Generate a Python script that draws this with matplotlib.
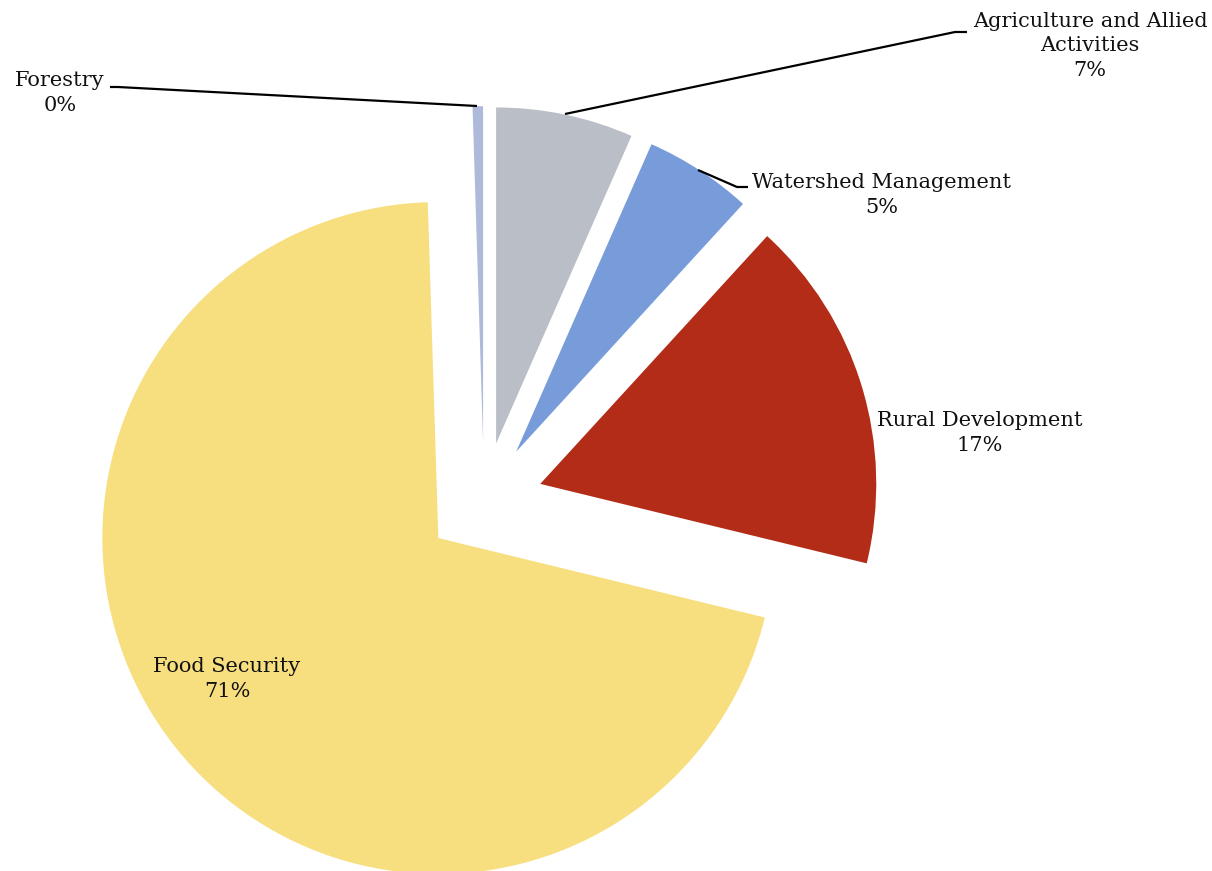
import matplotlib
matplotlib.use('Agg')
import matplotlib.pyplot as plt

# shares of the programme (percent), clockwise from 12 o'clock
labels = ['Agriculture and Allied\nActivities', 'Watershed Management',
          'Rural Development', 'Food Security', 'Forestry']
values = [6.6, 5.2, 17.0, 70.7, 0.5]
colors = ['#BABEC6', '#789CD9', '#B22C18', '#F7DF80', '#ADBAD9']

plt.rcParams['font.family'] = ['DejaVu Serif']

W, H = 1212, 871
fig = plt.figure(figsize=(W / 100, H / 100), dpi=100)
ax = fig.add_axes([0, 0, 1, 1])

# pixel based axes, y up
cx, cy, R = 484, H - 501, 336
ax.pie(values, explode=[0.175 * R] * len(values), radius=R, center=(cx, cy),
       startangle=90, counterclock=False, colors=colors,
       wedgeprops=dict(linewidth=0))
ax.set_xlim(0, W)
ax.set_ylim(0, H)
ax.set_aspect('equal')
ax.axis('off')

def P(x, y):
    return x, H - y

# label text: position given in image pixels (top-left origin)
label_pos = [(1090, 46), (882, 195), (980, 433), (227, 679), (60, 93)]
for lab, v, (x, y) in zip(labels, values, label_pos):
    ax.text(*P(x, y), '%s\n%d%%' % (lab, round(v)), ha='center', va='center',
            multialignment='center', fontsize=15, linespacing=1.35,
            color='#111111')

# leader lines
leaders = [
    [(565, 114), (955, 32), (967, 32)],
    [(698, 170), (737, 187), (748, 187)],
    [(110, 87), (118, 87), (477, 106)],
]
for pts in leaders:
    xs = [p[0] for p in pts]
    ys = [H - p[1] for p in pts]
    ax.plot(xs, ys, color='black', lw=1.6, solid_capstyle='butt')

fig.savefig('out.png', dpi=100)
